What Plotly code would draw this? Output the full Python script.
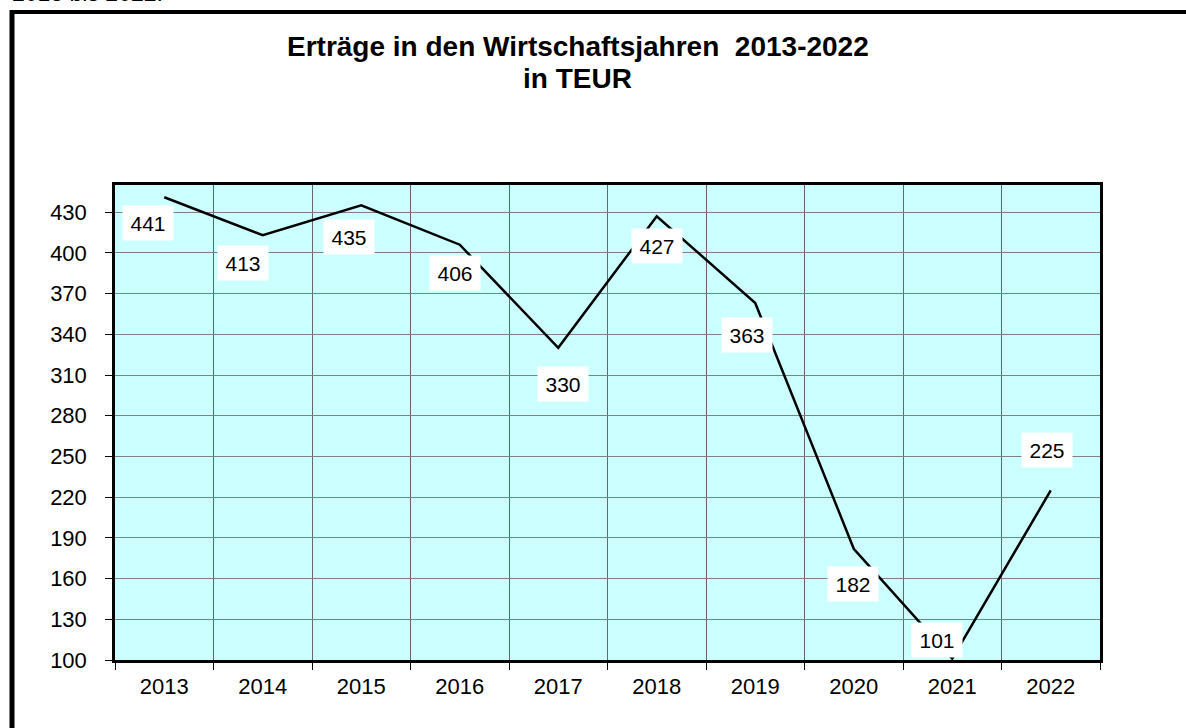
import plotly.graph_objects as go

years = [2013, 2014, 2015, 2016, 2017, 2018, 2019, 2020, 2021, 2022]
year_labels = ["2013", "2014", "2015", "2016", "2017", "2018", "2019", "2020", "2021", "2022"]
ertraege = [441, 413, 435, 406, 330, 427, 363, 182, 101, 225]
y_ticks = [100, 130, 160, 190, 220, 250, 280, 310, 340, 370, 400, 430]

# label offsets (px) relative to each point: (xshift, yshift)
label_shift = [(-16, -26), (-20, -28), (-12, -32), (-5, -28), (5, -36),
               (0, -30), (-8, -32), (-1, -35), (-15, 19), (-4, 40)]

W, H = 1186, 728
L, R, T, B = 115, 86, 185, 68
FONT = "Liberation Sans, Arial, sans-serif"

def px(x):
    return (x - L) / (W - L - R)

def py(y):
    return 1 - (y - T) / (H - T - B)

boundaries = [y - 0.5 for y in years] + [years[-1] + 0.5]

fig = go.Figure()
fig.add_trace(go.Scatter(x=years, y=ertraege, mode="lines",
                         line=dict(color="black", width=2.5), hoverinfo="x+y",
                         cliponaxis=False))

for yr, v, (dx, dy) in zip(years, ertraege, label_shift):
    fig.add_annotation(x=yr, y=v, xref="x", yref="y", text=str(v), showarrow=False,
                       xshift=dx, yshift=dy, bgcolor="white", width=48, height=32,
                       font=dict(family=FONT, size=21, color="black"))

fig.update_layout(
    width=W, height=H,
    margin=dict(l=L, r=R, t=T, b=B),
    paper_bgcolor="white", plot_bgcolor="#CCFFFF",
    showlegend=False,
    font=dict(family=FONT, size=22, color="black"),
    xaxis=dict(type="linear", range=[boundaries[0], boundaries[-1]],
               tickmode="array", tickvals=years, ticktext=year_labels,
               showgrid=False, ticks="", zeroline=False,
               minor=dict(tickmode="array", tickvals=boundaries, showgrid=True,
                          gridcolor="#666666", gridwidth=1, ticks="outside",
                          ticklen=7, tickcolor="black", tickwidth=1),
               showline=True, linecolor="black", linewidth=2.5, mirror=True,
               tickfont=dict(size=22), fixedrange=True, ticklabelstandoff=5),
    yaxis=dict(range=[100, 450], tickvals=y_ticks, showgrid=True, gridcolor="#808080",
               gridwidth=1, ticks="outside", ticklen=7, tickcolor="black", tickwidth=1,
               showline=True, linecolor="black", linewidth=2.5, mirror=True,
               tickfont=dict(size=22), zeroline=False, ticklabelstandoff=14,
               fixedrange=True),
)

# title (two lines)
fig.add_annotation(x=px(577.5), y=py(47), xref="paper", yref="paper",
                   text="<b>Erträge in den Wirtschaftsjahren  2013-2022</b>",
                   showarrow=False, xanchor="center", yanchor="middle",
                   font=dict(family=FONT, size=28, color="black"))
fig.add_annotation(x=px(577.5), y=py(78), xref="paper", yref="paper",
                   text="<b>in TEUR</b>",
                   showarrow=False, xanchor="center", yanchor="middle",
                   font=dict(family=FONT, size=28, color="black"))

# cropped text line at the very top
fig.add_annotation(x=px(10), y=py(-6.5), xref="paper", yref="paper",
                   text="2013 bis 2022.", showarrow=False, xanchor="left", yanchor="middle",
                   font=dict(family=FONT, size=23, color="black"))

# outer frame
fig.add_shape(type="line", xref="paper", yref="paper", x0=px(12), x1=px(1200),
              y0=py(12), y1=py(12), line=dict(color="black", width=4))
fig.add_shape(type="line", xref="paper", yref="paper", x0=px(12), x1=px(12),
              y0=py(10), y1=py(740), line=dict(color="black", width=5))

fig.write_html("out.html", config={"displayModeBar": False},
               post_script="document.body.style.margin='0';")
